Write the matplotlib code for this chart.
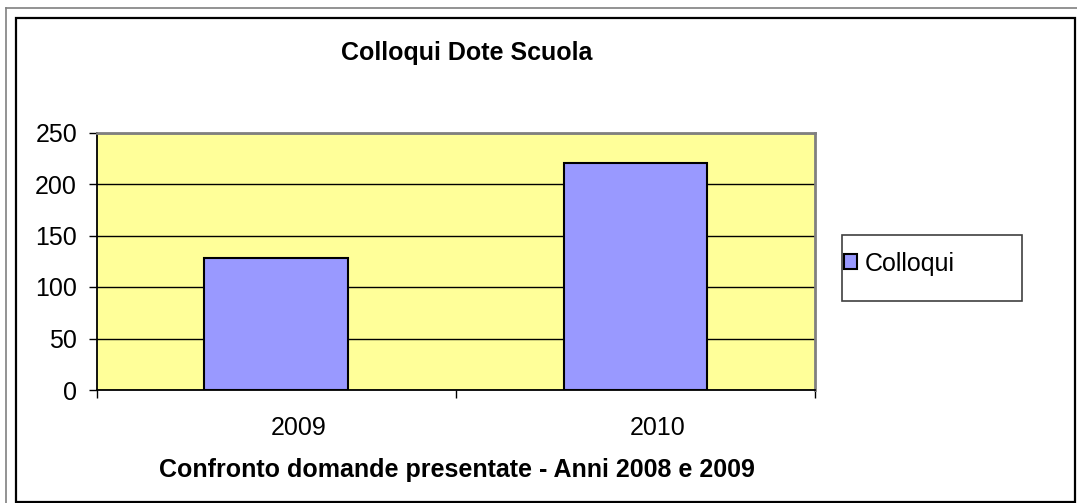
import matplotlib
matplotlib.use("Agg")
import matplotlib.pyplot as plt
from matplotlib.patches import Rectangle, Patch
from matplotlib.lines import Line2D
import matplotlib.transforms as mtransforms

categories = ["2009", "2010"]
values = [128, 220]
series_name = "Colloqui"
title = "Colloqui Dote Scuola"
xlabel = "Confronto domande presentate - Anni 2008 e 2009"
yticks = [0, 50, 100, 150, 200, 250]

W, H = 1077, 503
FS = 18
plt.rcParams['font.family'] = ['Liberation Sans', 'DejaVu Sans']
fig = plt.figure(figsize=(W / 100, H / 100), dpi=100)
fig.patch.set_facecolor("white")

def fx(px):
    return px / W

def fy(py):
    return 1 - py / H

# frames
fig.add_artist(Line2D([fx(5.5), fx(5.5)], [fy(7.5), fy(503)], color="#808080", lw=1.2, transform=fig.transFigure))
fig.add_artist(Line2D([fx(5.5), fx(1077)], [fy(7.5), fy(7.5)], color="#808080", lw=1.2, transform=fig.transFigure))
fig.add_artist(Rectangle((fx(15.5), fy(501.5)), fx(1075) - fx(15.5), fy(17.5) - fy(501.5),
                         fill=False, edgecolor="black", lw=1.6, transform=fig.transFigure))

left, right, top, bottom = 96.5, 815, 132.5, 390
ax = fig.add_axes([fx(left), fy(bottom), fx(right) - fx(left), fy(top) - fy(bottom)])
ax.set_facecolor("#FFFF99")

x = list(range(len(categories)))
ax.bar(x, values, width=0.4, color="#9999FF", edgecolor="black", linewidth=1.5, zorder=3)

ax.set_xlim(-0.5, len(categories) - 0.5)
ax.set_ylim(0, 250)
ax.set_yticks(yticks)
ax.set_yticklabels([str(v) for v in yticks], fontsize=FS)
ax.yaxis.grid(True, color="black", linewidth=1.0, zorder=1)
ax.set_axisbelow(True)

ax.set_xticks([i - 0.5 for i in range(len(categories) + 1)])
ax.set_xticklabels([])
ax.set_xticks(x, minor=True)
ax.set_xticklabels(categories, minor=True, fontsize=FS)
ax.tick_params(axis="x", which="major", direction="out", length=6, width=1, color="black")
ax.tick_params(axis="x", which="minor", length=0, pad=18.5)
ax.tick_params(axis="y", direction="out", length=6, width=1, pad=8)
offset = mtransforms.ScaledTranslation(22 / 100, 0, fig.dpi_scale_trans)
for lab in ax.xaxis.get_minorticklabels():
    lab.set_transform(lab.get_transform() + offset)

for s in ["left", "bottom"]:
    ax.spines[s].set_color("black")
    ax.spines[s].set_linewidth(1.3)
for s in ["top", "right"]:
    ax.spines[s].set_color("#808080")
    ax.spines[s].set_linewidth(2.0)

fig.text(fx(467), fy(53), title, fontsize=FS, fontweight="bold", ha="center", va="center")
fig.text(fx(457), fy(470), xlabel, fontsize=FS, fontweight="bold", ha="center", va="center")

# legend
fig.add_artist(Rectangle((fx(841.5), fy(301)), fx(1021.5) - fx(841.5), fy(234.5) - fy(301),
                         fill=True, facecolor="white", edgecolor="#404040", lw=1.2, transform=fig.transFigure))
handle = Patch(facecolor="#9999FF", edgecolor="black", linewidth=1.5)
leg = fig.legend([handle], [series_name], loc="center left", bbox_to_anchor=(fx(836), fy(263.5)),
                 frameon=False, fontsize=FS, handlelength=0.52, handleheight=0.52, handletextpad=0.35,
                 borderaxespad=0, borderpad=0.3)

fig.savefig("out.png", dpi=100)
